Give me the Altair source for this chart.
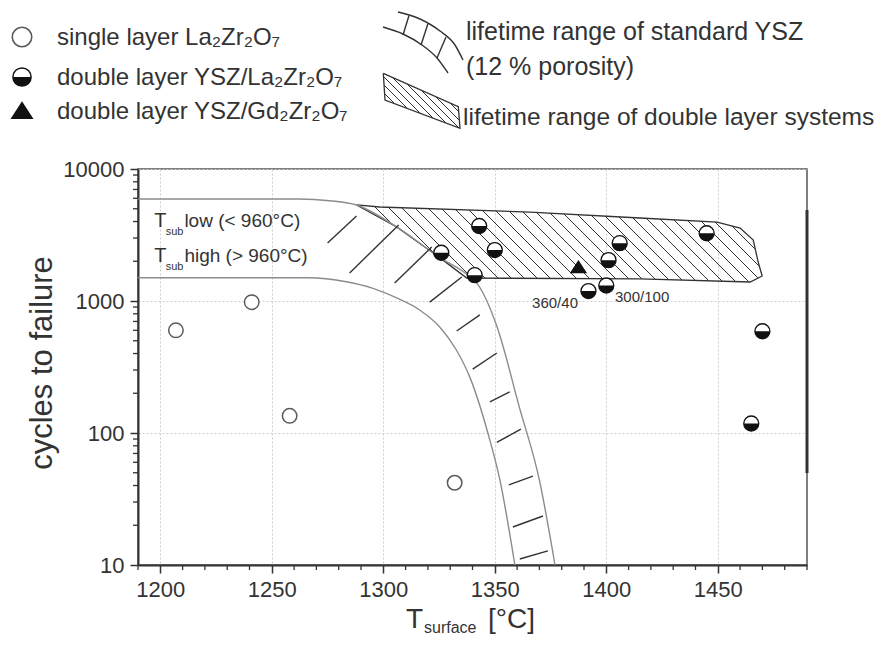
import numpy as np
import pandas as pd
import altair as alt

# ---------------- data ----------------
single_T = [1207, 1241, 1258, 1332]
single_N = [600, 980, 135, 42]

dlLZ_T = [1343, 1326, 1350, 1341, 1406, 1401, 1400, 1392, 1445, 1470, 1465]
dlLZ_N = [3700, 2320, 2430, 1570, 2740, 2040, 1310, 1190, 3260, 590, 118]

dlGZ_T = [1387.5]
dlGZ_N = [1800]

ysz_hi_T = [1190, 1262, 1276, 1288, 1306, 1325, 1339, 1342, 1351, 1361, 1370, 1377]
ysz_hi_N = [5930, 5930, 5750, 5340, 3640, 2150, 1520, 1360, 638, 157, 44, 10]
ysz_lo_T = [1190, 1266, 1283.4, 1295.4, 1306, 1316.3, 1325.3, 1332.5, 1338.8, 1346.9, 1352.3, 1359]
ysz_lo_N = [1500, 1500, 1400, 1248, 1055, 855, 636, 433, 265, 100, 44, 10]

ysz_tick_T1 = [1275.0, 1284.9, 1305.1, 1320.8, 1332.9, 1340.1, 1347.8, 1350.9, 1356.3, 1358.1, 1361.2]
ysz_tick_N1 = [2750, 1630, 1370, 980, 593, 305, 172, 85, 40.4, 19.4, 11.1]
ysz_tick_T2 = [1288.0, 1306.9, 1321.7, 1335.2, 1343.3, 1350.9, 1356.7, 1361.7, 1367.1, 1371.6, 1373.8]
ysz_tick_N2 = [4400, 3770, 2560, 1520, 784, 404, 205, 107, 47.2, 23.5, 12.8]

dl_T = [1288, 1298.4, 1365.7, 1415.1, 1449.7, 1460.0, 1465.9, 1468.1, 1469.9, 1464.5, 1415.1, 1337.4, 1325, 1306, 1288]
dl_N = [5340, 5155, 4721, 4254, 3965, 3573, 2897, 1973, 1546, 1393, 1469, 1493, 2150, 3640, 5340]

x_ticks = [1200, 1250, 1300, 1350, 1400, 1450]
y_ticks = [10, 100, 1000, 10000]
x_minor = [t for t in range(1190, 1491, 10) if t % 50 != 0]
y_minor = [m * d for d in (10, 100, 1000) for m in range(2, 10)]

legend_left = ["single layer La₂Zr₂O₇", "double layer YSZ/La₂Zr₂O₇", "double layer YSZ/Gd₂Zr₂O₇"]
legend_right = ["lifetime range of standard YSZ", "(12 % porosity)"]
legend_right2 = ["lifetime range of double layer systems"]

# ---------------- layout ----------------
W, H = 669, 396
X0, X1 = 1190, 1490
OX, OY = 138, 169  # page position of plot origin
FONT = "Liberation Sans"
INK = "#333333"

xs = alt.Scale(domain=[X0, X1], nice=False, zero=False)
ys = alt.Scale(type="log", domain=[10, 10000], nice=False)


def U(T):
    return (T - X0) / (X1 - X0) * W


def V(N):
    return (4 - np.log10(N)) / 3 * H


def Tu(u):
    return X0 + u / W * (X1 - X0)


def Nv(v):
    return 10 ** (4 - v / H * 3)


def hatch(poly, step, offset=0.0):
    vals = [p[0] - p[1] for p in poly]
    segs = []
    c = np.floor(min(vals) / step) * step + offset
    while c <= max(vals):
        pts = []
        for k in range(len(poly) - 1):
            (u1, v1), (u2, v2) = poly[k], poly[k + 1]
            f1, f2 = u1 - v1 - c, u2 - v2 - c
            if (f1 > 0) != (f2 > 0):
                t = f1 / (f1 - f2)
                pts.append((u1 + t * (u2 - u1), v1 + t * (v2 - v1)))
        pts.sort()
        for a in range(0, len(pts) - 1, 2):
            segs.append((pts[a], pts[a + 1]))
        c += step
    return segs


def seg_df(segs):
    return pd.DataFrame({
        "T": [Tu(a[0]) for a, b in segs], "N": [Nv(a[1]) for a, b in segs],
        "T2": [Tu(b[0]) for a, b in segs], "N2": [Nv(b[1]) for a, b in segs],
    })


def page_df(points, **cols):
    d = {"T": [Tu(p[0] - OX) for p in points], "N": [Nv(p[1] - OY) for p in points],
         "i": range(len(points))}
    d.update(cols)
    return pd.DataFrame(d)


axis_x = alt.Axis(values=x_ticks, format="d", title=None, grid=True, labelFlush=False, labelOverlap=False)
axis_y = alt.Axis(values=y_ticks, format="d", title=None, grid=True, labelOverlap=False)
X = alt.X("T:Q", scale=xs, axis=axis_x)
Y = alt.Y("N:Q", scale=ys, axis=axis_y)

layers = []

# hatch lines of double-layer region (computed from its outline)
poly = [(U(t), V(n)) for t, n in zip(dl_T, dl_N)]
layers.append(alt.Chart(seg_df(hatch(poly, 13.0, 4.0))).mark_rule(color="#333", strokeWidth=1).encode(
    x=X, y=Y, x2="T2:Q", y2="N2:Q"))

# outline of double-layer region
dl_df = pd.DataFrame({"T": dl_T, "N": dl_N, "i": range(len(dl_T))})
layers.append(alt.Chart(dl_df).mark_line(color="#333", strokeWidth=1.3).encode(x=X, y=Y, order="i:Q"))

# YSZ band curves
band_df = pd.concat([
    pd.DataFrame({"T": ysz_hi_T, "N": ysz_hi_N, "c": "hi", "i": range(len(ysz_hi_T))}),
    pd.DataFrame({"T": ysz_lo_T, "N": ysz_lo_N, "c": "lo", "i": range(len(ysz_lo_T))}),
])
layers.append(alt.Chart(band_df).mark_line(color="#8c8c8c", strokeWidth=1.4, interpolate="monotone").encode(
    x=X, y=Y, detail="c:N", order="i:Q"))

# YSZ band hash marks
yt_df = pd.DataFrame({"T": ysz_tick_T1, "N": ysz_tick_N1, "T2": ysz_tick_T2, "N2": ysz_tick_N2})
layers.append(alt.Chart(yt_df).mark_rule(color="#333", strokeWidth=1.4).encode(
    x=X, y=Y, x2="T2:Q", y2="N2:Q"))

# minor ticks
layers.append(alt.Chart(pd.DataFrame({"T": x_minor})).mark_rule(color=INK, strokeWidth=1.3).encode(
    x=X, y=alt.value(H), y2=alt.value(H + 5)))
layers.append(alt.Chart(pd.DataFrame({"N": y_minor})).mark_rule(color=INK, strokeWidth=1.3).encode(
    y=Y, x=alt.value(0), x2=alt.value(-5)))

# thick part of right frame
layers.append(alt.Chart(pd.DataFrame({"a": [0]})).mark_rule(color="#333", strokeWidth=3).encode(
    x=alt.value(W), y=alt.value(41), y2=alt.value(304)))

# data points
layers.append(alt.Chart(pd.DataFrame({"T": single_T, "N": single_N})).mark_point(
    shape="circle", filled=True, fill="white", stroke="#5a5a5a", strokeWidth=1.5, size=210, opacity=1
).encode(x=X, y=Y))

HALF = "M -1 0 A 1 1 0 0 0 1 0 Z"
half_df = pd.DataFrame({"T": dlLZ_T, "N": dlLZ_N})
layers.append(alt.Chart(half_df).mark_point(
    shape="circle", filled=True, fill="white", stroke="#111", strokeWidth=1.3, size=225, opacity=1
).encode(x=X, y=Y))
layers.append(alt.Chart(half_df).mark_point(shape=HALF, filled=True, color="#111", size=225, opacity=1
                                            ).encode(x=X, y=Y))

TRI = "M 0 -0.85 L 1 0.7 L -1 0.7 Z"
layers.append(alt.Chart(pd.DataFrame({"T": dlGZ_T, "N": dlGZ_N})).mark_point(
    shape=TRI, filled=True, color="#111", size=300, opacity=1).encode(x=X, y=Y))


# annotations in plot
def txt(df, **kw):
    base = dict(font=FONT, color=INK, align="left", baseline="alphabetic")
    base.update(kw)
    return alt.Chart(df).mark_text(**base).encode(x=X, y=Y, text="s:N")


layers.append(txt(pd.DataFrame({"T": [1387.3], "N": [885], "s": ["360/40"]}), fontSize=15, align="right"))
layers.append(txt(pd.DataFrame({"T": [1403.9], "N": [988], "s": ["300/100"]}), fontSize=15))
layers.append(txt(pd.DataFrame({"T": [1197.3, 1197.3], "N": [3655, 1986], "s": ["T", "T"]}), fontSize=20))
layers.append(txt(pd.DataFrame({"T": [1202.4, 1202.4], "N": [3162, 1718], "s": ["sub", "sub"]}), fontSize=11))
layers.append(txt(pd.DataFrame({"T": [1210.8, 1210.8], "N": [3655, 1986],
                                "s": ["low (< 960°C)", "high (> 960°C)"]}), fontSize=19))

# ---------------- legend (placed at page positions through the same scales) ----------------
layers.append(alt.Chart(page_df([(22, 37)])).mark_point(
    shape="circle", filled=True, fill="white", stroke="#5a5a5a", strokeWidth=1.6, size=380, opacity=1
).encode(x=X, y=Y))
layers.append(alt.Chart(page_df([(22, 77)])).mark_point(
    shape="circle", filled=True, fill="white", stroke="#111", strokeWidth=1.5, size=330, opacity=1
).encode(x=X, y=Y))
layers.append(alt.Chart(page_df([(22, 77)])).mark_point(shape=HALF, filled=True, color="#111", size=330,
                                                        opacity=1).encode(x=X, y=Y))
layers.append(alt.Chart(page_df([(22, 111)])).mark_point(shape=TRI, filled=True, color="#111", size=530,
                                                         opacity=1).encode(x=X, y=Y))

layers.append(alt.Chart(page_df([(57, 45), (57, 85), (57, 119)], s=legend_left)).mark_text(
    font=FONT, fontSize=24, color=INK, align="left", baseline="alphabetic").encode(x=X, y=Y, text="s:N"))
layers.append(alt.Chart(page_df([(466, 40), (466, 75)], s=legend_right)).mark_text(
    font=FONT, fontSize=25, color=INK, align="left", baseline="alphabetic").encode(x=X, y=Y, text="s:N"))
layers.append(alt.Chart(page_df([(463, 125)], s=legend_right2)).mark_text(
    font=FONT, fontSize=24.5, color=INK, align="left", baseline="alphabetic").encode(x=X, y=Y, text="s:N"))

# YSZ legend glyph
arc_hi = [(398, 12), (420, 19), (440, 31), (455, 45), (463, 60)]
arc_lo = [(383, 27), (403, 34), (422, 45), (437, 58), (448, 73)]
arcs = pd.concat([page_df(arc_hi, c="hi"), page_df(arc_lo, c="lo")])
layers.append(alt.Chart(arcs).mark_line(color="#333", strokeWidth=1.4, interpolate="monotone").encode(
    x=X, y=Y, detail="c:N", order="i:Q"))
lh = [((403, 35), (409, 15.5)), ((421, 45), (428, 23.5)), ((437, 58), (446, 37))]
layers.append(alt.Chart(seg_df([((a[0] - OX, a[1] - OY), (b[0] - OX, b[1] - OY)) for a, b in lh])).mark_rule(
    color="#333", strokeWidth=1.4).encode(x=X, y=Y, x2="T2:Q", y2="N2:Q"))

# double-layer legend glyph
box = [(383.3, 73.3), (458.3, 106.7), (460, 128.3), (385, 100), (383.3, 73.3)]
layers.append(alt.Chart(page_df(box)).mark_line(color="#333", strokeWidth=1.3).encode(x=X, y=Y, order="i:Q"))
bh = hatch([(p[0] - OX, p[1] - OY) for p in box], 8.0, 2.0)
layers.append(alt.Chart(seg_df(bh)).mark_rule(color="#333", strokeWidth=1).encode(
    x=X, y=Y, x2="T2:Q", y2="N2:Q"))

# ---------------- axis titles ----------------
one = pd.DataFrame({"a": [0]})
layers.append(alt.Chart(one).mark_text(font=FONT, fontSize=31, color=INK, angle=270, align="center",
                                       baseline="middle", text="cycles to failure").encode(
    x=alt.value(-95), y=alt.value(194)))
layers.append(alt.Chart(one).mark_text(font=FONT, fontSize=28, color=INK, align="left",
                                       baseline="alphabetic", text="T").encode(x=alt.value(268), y=alt.value(459)))
layers.append(alt.Chart(one).mark_text(font=FONT, fontSize=16, color=INK, align="left",
                                       baseline="alphabetic", text="surface").encode(x=alt.value(286), y=alt.value(464)))
layers.append(alt.Chart(one).mark_text(font=FONT, fontSize=28, color=INK, align="left",
                                       baseline="alphabetic", text="[°C]").encode(x=alt.value(350), y=alt.value(459)))

chart = alt.layer(*layers).properties(
    width=W, height=H,
    autosize=alt.AutoSizeParams(type="none"),
    padding={"left": 130, "top": 161, "right": 71, "bottom": 70},
).configure_view(
    stroke="#555", strokeWidth=1.5
).configure_axis(
    labelFont=FONT, labelFontSize=22, labelColor=INK,
    domainColor="#333", domainWidth=2, tickColor="#333", tickWidth=1.5, tickSize=8,
    labelPadding=6, gridColor="#cfcfcf", gridDash=[2, 2], gridWidth=1,
)

chart.save("out.html", embed_options={"renderer": "svg", "actions": False})
